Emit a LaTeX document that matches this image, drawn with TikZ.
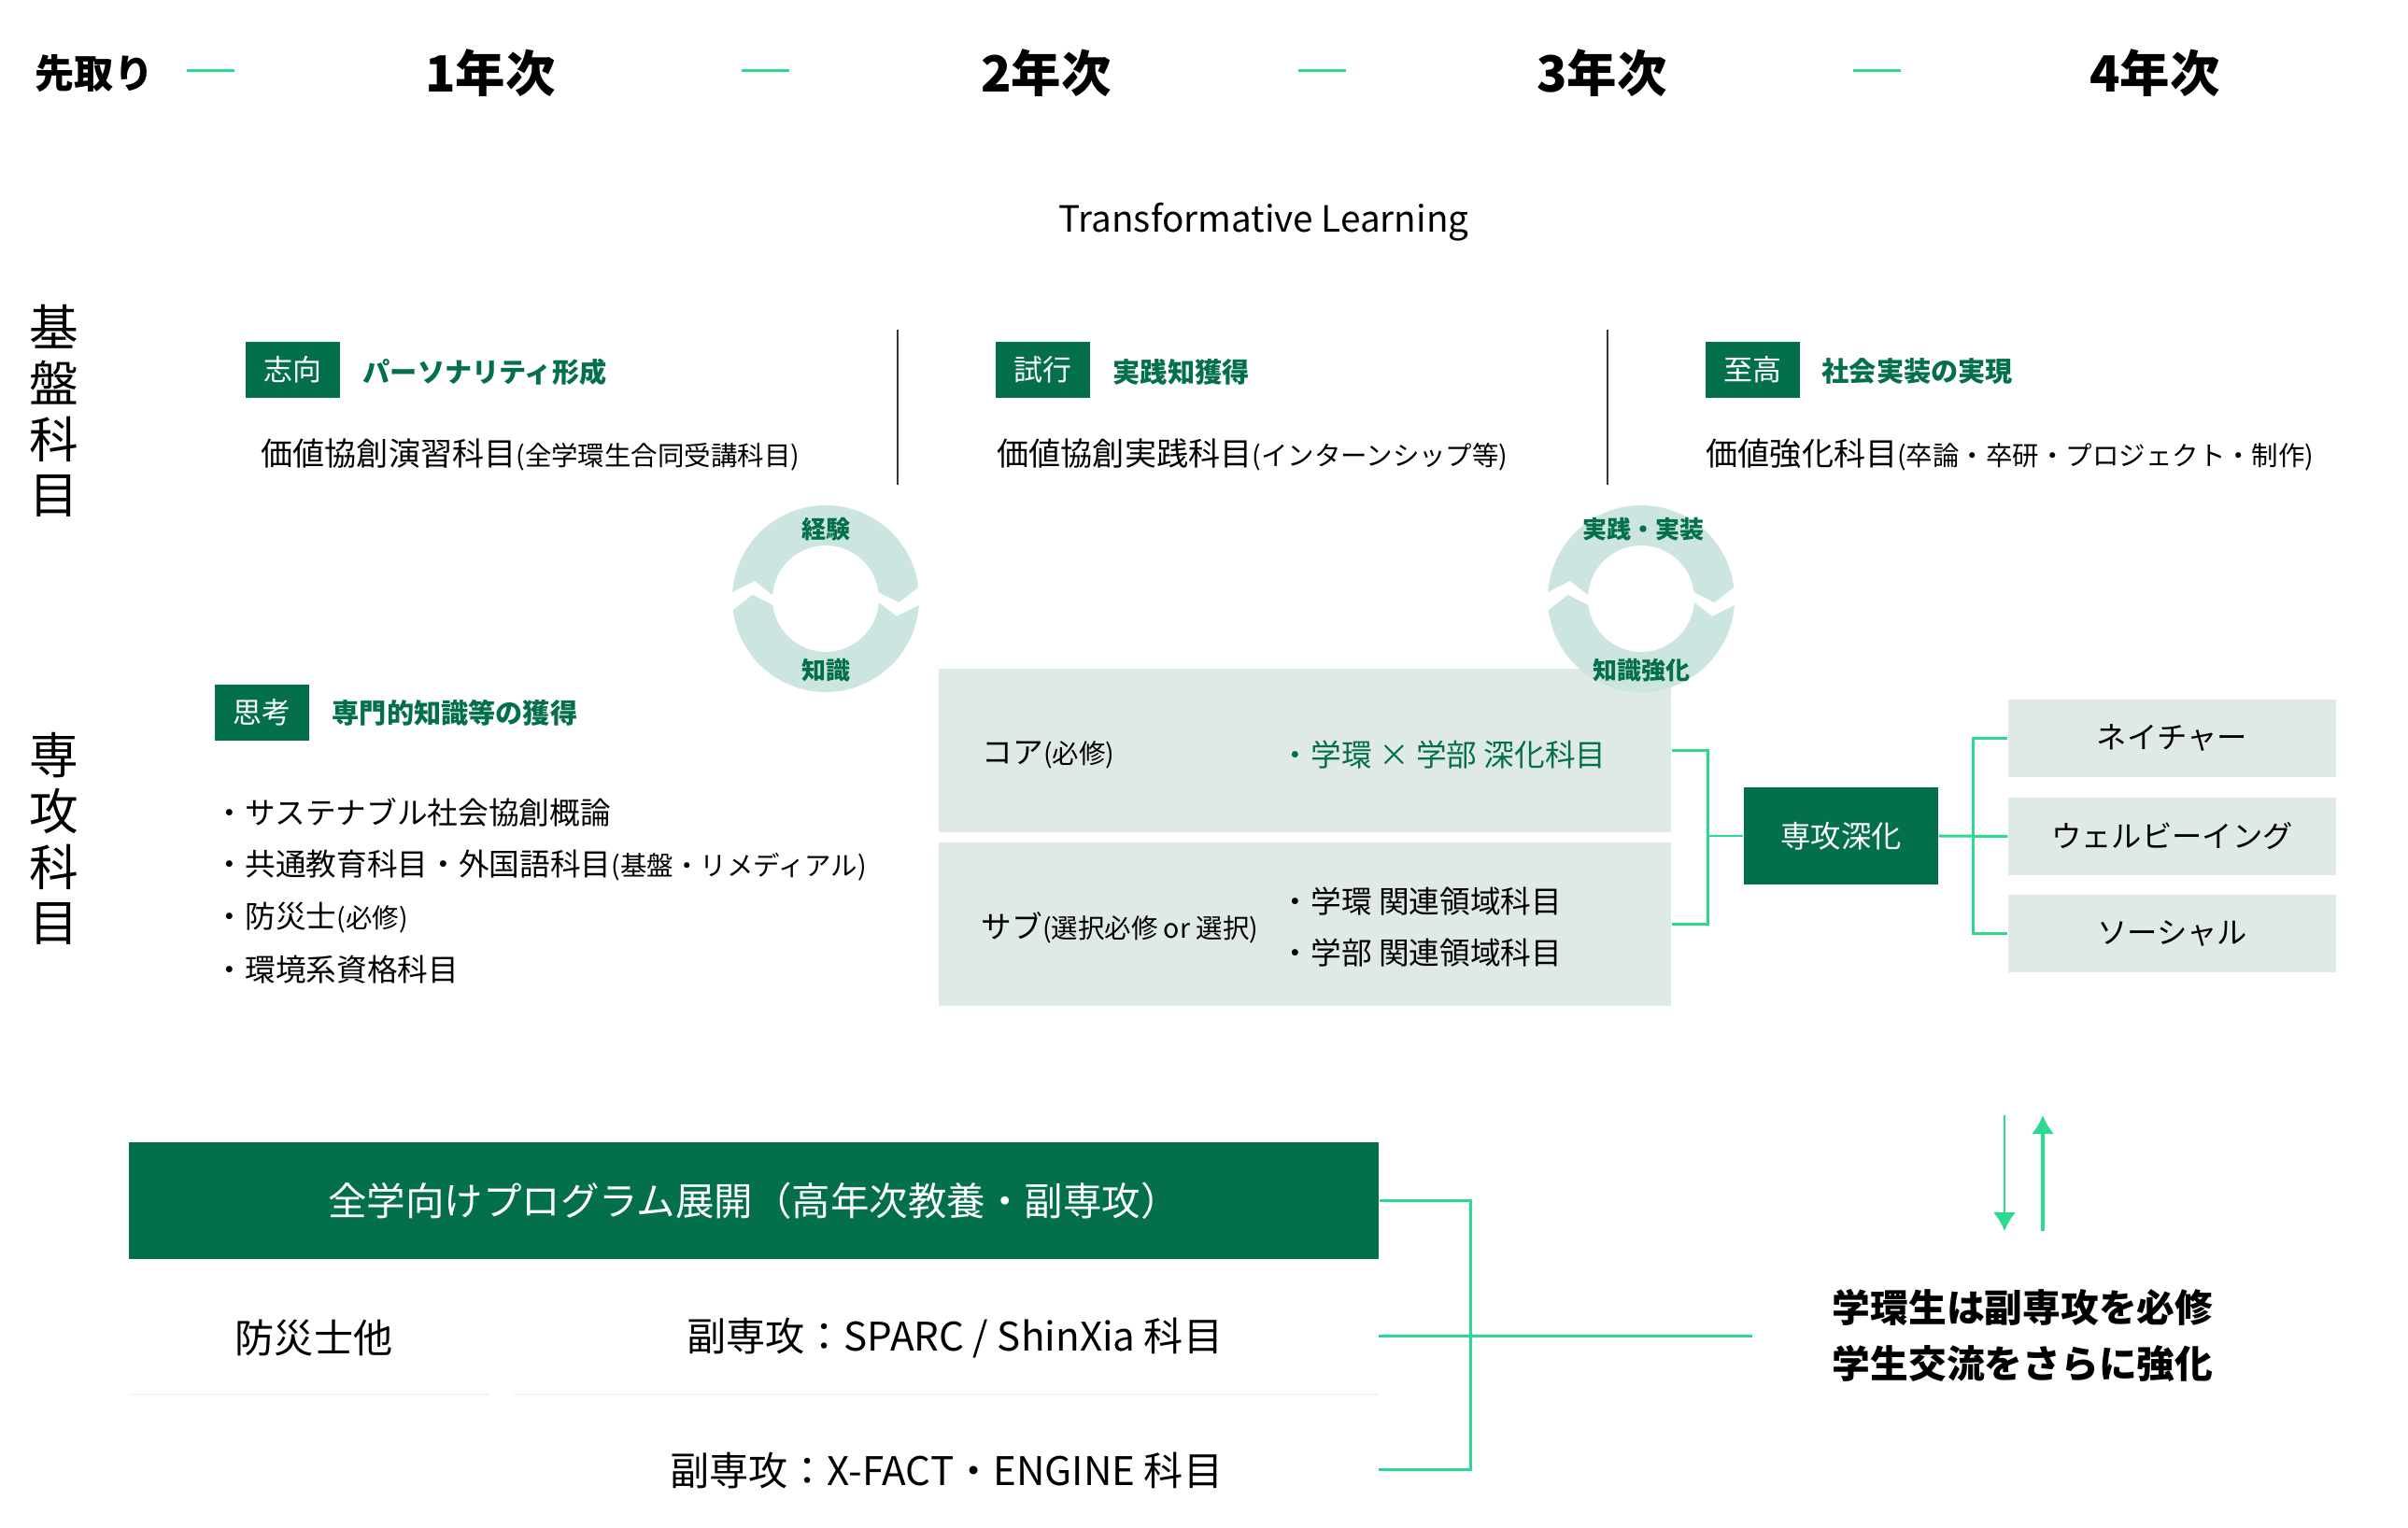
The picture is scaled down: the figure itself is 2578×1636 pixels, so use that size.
\documentclass[tikz,border=0pt]{standalone}
\usepackage{fontspec}
\setmainfont{Noto Sans CJK JP}
\usepackage{tikz}
\usetikzlibrary{calc,positioning,arrows.meta,backgrounds}
\pgfdeclarelayer{background}
\pgfsetlayers{background,main}

\definecolor{dkgreen}{HTML}{04704A}
\definecolor{lgreen}{HTML}{2BD98F}
\definecolor{panelc}{HTML}{E0EAE4}
\definecolor{ringc}{HTML}{CDE5E1}
\definecolor{sepc}{HTML}{F4F4F4}

\newcommand{\sm}[1]{{\fontsize{8.1}{10}\selectfont #1}}

\tikzset{
  year/.style={font=\bfseries\fontsize{15.2}{18}\selectfont,inner sep=0pt},
  vlabel/.style={align=center,font=\fontsize{15}{17}\selectfont,inner sep=0pt},
  tagbox/.style={fill=dkgreen,text=white,minimum width=10.1mm,minimum height=6mm,inner sep=0pt,font=\fontsize{8.8}{10}\selectfont},
  taghead/.style={anchor=west,text=dkgreen,inner sep=0pt,font=\bfseries\fontsize{8.3}{10}\selectfont},
  maintext/.style={anchor=west,inner sep=0pt,font=\fontsize{9.7}{12}\selectfont},
  item/.style={anchor=west,inner sep=0pt,font=\fontsize{9.3}{11}\selectfont},
  ringlabel/.style={text=dkgreen,inner sep=0pt,font=\bfseries\fontsize{7.4}{9}\selectfont},
  panel/.style={fill=panelc,minimum width=78.4mm,minimum height=17.5mm,inner sep=0pt},
  field/.style={fill=panelc,minimum width=35.1mm,minimum height=8.3mm,inner sep=0pt,font=\fontsize{9.2}{11}\selectfont},
  link/.style={lgreen,line width=0.85pt},
  dashg/.style={lgreen,line width=0.85pt},
  rowtext/.style={inner sep=0pt,font=\fontsize{12}{14}\selectfont}
}

\begin{document}
\begin{tikzpicture}[x=0.1mm,y=-0.1mm]
  \useasboundingbox (0,0) rectangle (2578,1636);
  \fill[white] (0,0) rectangle (2578,1636);

  % header
  \node[font=\bfseries\fontsize{12}{14}\selectfont,inner sep=0pt] (pre) at (101,79) {先取り};
  \foreach \n/\x/\t in {y1/525/1年次, y2/1120/2年次, y3/1715/3年次, y4/2307/4年次}
    \node[year] (\n) at (\x,78) {\t};
  \foreach \x in {200,794,1390,1984}
    \draw[dashg] (\x,76) -- ++(51,0);
  \node[font=\fontsize{11}{13}\selectfont,inner sep=0pt] (tl) at (1353,238) {Transformative Learning};

  % row titles
  \node[vlabel] (base) at (58,440) {基\\盤\\科\\目};
  \node[vlabel] (major) at (58,898) {専\\攻\\科\\目};

  % basic subjects
  \node[tagbox] (t1) at (313.5,396) {志向};
  \node[taghead] (h1) at (388,398) {パーソナリティ形成};
  \node[maintext] (m1) at (279,487) {価値協創演習科目\sm{(全学環生合同受講科目)}};

  \node[tagbox] (t2) at (1116.5,396) {試行};
  \node[taghead] (h2) at (1191,398) {実践知獲得};
  \node[maintext] (m2) at (1067,487) {価値協創実践科目\sm{(インターンシップ等)}};

  \node[tagbox] (t3) at (1876,396) {至高};
  \node[taghead] (h3) at (1950,398) {社会実装の実現};
  \node[maintext] (m3) at (1826,487) {価値強化科目\sm{(卒論・卒研・プロジェクト・制作)}};

  \draw[black!80,line width=0.6pt] (961,353) -- (961,519);
  \draw[black!80,line width=0.6pt] (1721,353) -- (1721,519);

  % major subjects
  \node[tagbox] (t4) at (280,763) {思考};
  \node[taghead] (h4) at (355,763) {専門的知識等の獲得};
  \node[item] (b1) at (229,870) {・サステナブル社会協創概論};
  \node[item] (b2) at (229,927) {・共通教育科目・外国語科目\sm{(基盤・リメディアル)}};
  \node[item] (b3) at (229,983) {・防災士\sm{(必修)}};
  \node[item] (b4) at (229,1038) {・環境系資格科目};

  \node[panel] (core) at (1397,803.5) {};
  \node[panel] (sub) at (1397,989.5) {};
  \node[item] (coret) at (1051,808) {コア\sm{(必修)}};
  \node[item,text=dkgreen] (corei) at (1370,808) {・学環 × 学部 深化科目};
  \node[item] (subt) at (1050,993) {サブ\sm{(選択必修 or 選択)}};
  \node[item] (subi1) at (1370,965) {・学環 関連領域科目};
  \node[item] (subi2) at (1370,1020) {・学部 関連領域科目};

  % cycles
  \coordinate (c1) at (884,641);
  \coordinate (c2) at (1757,641);
  \foreach \c in {c1,c2}
  {
  \fill[ringc] ($(\c)+(176:10mm)$) arc[start angle=176,end angle=7,radius=10mm]
    -- ($(\c)+(-3:7.85mm)$) -- ($(\c)+(7:5.7mm)$) arc[start angle=7,end angle=176,radius=5.7mm]
    -- ($(\c)+(166:7.85mm)$) -- cycle;
  \fill[ringc] ($(\c)+(-4:10mm)$) arc[start angle=-4,end angle=-173,radius=10mm]
    -- ($(\c)+(177:7.85mm)$) -- ($(\c)+(-173:5.7mm)$) arc[start angle=-173,end angle=-4,radius=5.7mm]
    -- ($(\c)+(-14:7.85mm)$) -- cycle;
  }
  \node[ringlabel] (r1a) at (884,567) {経験};
  \node[ringlabel] (r1b) at (884,718) {知識};
  \node[ringlabel] (r2a) at (1759,567) {実践・実装};
  \node[ringlabel] (r2b) at (1757,718) {知識強化};

  % deepening
  \node[fill=dkgreen,text=white,minimum width=20.8mm,minimum height=10.4mm,inner sep=0pt,
        font=\fontsize{9.2}{11}\selectfont] (deep) at (1971,895) {専攻深化};
  \node[field] (nat) at (2325.5,790.5) {ネイチャー};
  \node[field] (well) at (2325.5,895.5) {ウェルビーイング};
  \node[field] (soc) at (2325.5,999.5) {ソーシャル};

  \draw[link] (core.east) -- ++(39,0) |- (deep.west);
  \draw[link] (sub.east) -- ++(39,0) |- (deep.west);
  \draw[link] (deep.east) -- ++(37,0) |- (nat.west);
  \draw[link] (deep.east) -- (well.west);
  \draw[link] (deep.east) -- ++(37,0) |- (soc.west);

  % programme for all
  \node[fill=dkgreen,text=white,minimum width=133.8mm,minimum height=12.5mm,inner sep=0pt,
        font=\fontsize{11.8}{14}\selectfont] (bar) at (807,1285.5) {全学向けプログラム展開（高年次教養・副専攻）};
  \node[rowtext,anchor=west] (bosai) at (251,1433) {防災士他};
  \node[rowtext,anchor=east] (sparc) at (1310,1433) {副専攻：SPARC / ShinXia 科目};
  \node[rowtext,anchor=east] (xfact) at (1310,1575) {副専攻：X-FACT・ENGINE 科目};
  \draw[sepc,line width=0.5pt] (138,1493) -- (524,1493);
  \draw[sepc,line width=0.5pt] (550,1493) -- (1476,1493);

  \coordinate (rowa) at (1476,1430);
  \coordinate (rowb) at (1476,1573);
  \coordinate (mend) at (1876,1430);
  \draw[link] (bar.east) -| ($(rowb)+(98,0)$) -- (rowb);
  \draw[link] (rowa) -- (mend);

  \coordinate (dtop) at (2146,1194);
  \coordinate (dbot) at (2146,1318);
  \coordinate (utop) at (2187,1194);
  \coordinate (ubot) at (2187,1318);
  \draw[lgreen,line width=0.6pt,-{Latex[length=2mm,width=2.4mm]}] (dtop) -- (dbot);
  \draw[lgreen,line width=0.9pt,-{Latex[length=2mm,width=2.4mm]}] (ubot) -- (utop);

  \node[anchor=west,align=left,inner sep=0pt,font=\bfseries\fontsize{11.6}{17}\selectfont] (note) at (1961,1430)
    {学環生は副専攻を必修\\学生交流をさらに強化};
\end{tikzpicture}
\end{document}
